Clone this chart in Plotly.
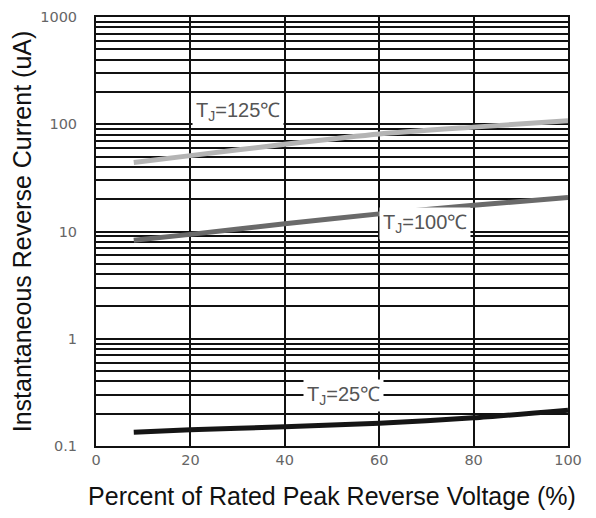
import math
import plotly.graph_objects as go

x_pct = [8, 20, 40, 60, 80, 100]
i_125 = [44, 51, 65, 81, 94, 108]
i_100 = [8.3, 9.4, 11.8, 14.6, 17.6, 20.7]
i_25 = [0.134, 0.142, 0.151, 0.163, 0.183, 0.216]

labels = ["T<sub>J</sub>=125\u2103", "T<sub>J</sub>=100\u2103", "T<sub>J</sub>=25\u2103"]
label_x = [30, 69.7, 52.5]
label_y = [132, 11.8, 0.297]

y_tickvals = [0.1, 1, 10, 100, 1000]
y_ticktext = ["0.1", "1", "10", "100", "1000"]
x_tickvals = [0, 20, 40, 60, 80, 100]

fig = go.Figure()
for ys, col in [(i_125, "#b4b4b4"), (i_100, "#6a6a6a"), (i_25, "#151515")]:
    fig.add_trace(go.Scatter(x=x_pct, y=ys, mode="lines",
                             line=dict(color=col, width=5, shape="spline", smoothing=0.6),
                             showlegend=False, hoverinfo="skip"))

for t, lx, ly in zip(labels, label_x, label_y):
    fig.add_annotation(x=lx, y=math.log10(ly), xref="x", yref="y", text=t, showarrow=False,
                       font=dict(family="Liberation Sans", size=20, color="#555555"),
                       bgcolor="white", borderpad=3)

tickfont = dict(family="DejaVu Sans", size=14.5, color="#666666")
title_font = dict(family="Liberation Sans", size=25, color="#111111")
fig.update_layout(
    width=588, height=510,
    margin=dict(l=88, r=28, t=9, b=72),
    plot_bgcolor="white", paper_bgcolor="white",
    xaxis=dict(range=[0, 100], tickvals=x_tickvals, showgrid=True, gridcolor="#111111",
               gridwidth=2, zeroline=False, showline=True, linecolor="#111111", linewidth=2,
               mirror=True, ticks="", tickfont=tickfont, automargin=False,
               ticklabeloverflow="allow",
               title=dict(text="Percent of Rated Peak Reverse Voltage (%)",
                          font=title_font, standoff=20)),
    yaxis=dict(type="log", range=[-1, 3], tickvals=y_tickvals, ticktext=y_ticktext,
               showgrid=True, gridcolor="#111111", gridwidth=2, zeroline=False,
               showline=True, linecolor="#111111", linewidth=2, mirror=True, ticks="",
               tickfont=tickfont, ticklabelstandoff=14, automargin=False,
               ticklabeloverflow="allow",
               minor=dict(dtick="D1", showgrid=True, gridcolor="#111111", gridwidth=2, ticks=""),
               title=dict(text="Instantaneous Reverse Current (uA)",
                          font=title_font, standoff=7)),
)

fig.write_html("out.html")
